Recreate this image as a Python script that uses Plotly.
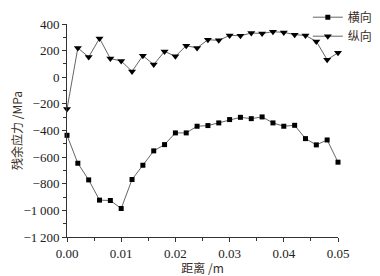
import plotly.graph_objects as go

distance = [0.000, 0.002, 0.004, 0.006, 0.008, 0.010, 0.012, 0.014, 0.016, 0.018,
            0.020, 0.022, 0.024, 0.026, 0.028, 0.030, 0.032, 0.034, 0.036, 0.038,
            0.040, 0.042, 0.044, 0.046, 0.048, 0.050]
transverse = [-436, -646, -771, -923, -926, -986, -768, -661, -553, -506,
              -418, -418, -368, -363, -343, -318, -301, -311, -298, -343,
              -368, -361, -461, -508, -471, -638]
longitudinal = [-238, 220, 152, 292, 140, 122, 44, 162, 95, 194,
                157, 237, 220, 282, 277, 314, 312, 332, 329, 342,
                337, 320, 314, 269, 132, 184]

y_tickvals = [400, 200, 0, -200, -400, -600, -800, -1000, -1200]
y_ticktext = ["400", "200", "0", "\u2212200", "\u2212400", "\u2212600", "\u2212800",
              "\u22121\u2009000", "\u22121\u2009200"]
x_tickvals = [0.00, 0.01, 0.02, 0.03, 0.04, 0.05]
x_ticktext = ["0.00", "0.01", "0.02", "0.03", "0.04", "0.05"]

serif = "Liberation Serif"
cjk = "Noto Sans CJK SC"
text_col = "#3a2e28"

fig = go.Figure()
fig.add_trace(go.Scatter(
    x=distance, y=transverse, name="横向", mode="lines+markers",
    line=dict(color="#555555", width=0.9),
    marker=dict(symbol="square", size=5, color="#000000"),
    cliponaxis=False))
fig.add_trace(go.Scatter(
    x=distance, y=longitudinal, name="纵向", mode="lines+markers",
    line=dict(color="#555555", width=0.9),
    marker=dict(symbol="triangle-down", size=7, color="#000000"),
    cliponaxis=False))

axis_common = dict(showgrid=False, zeroline=False, showline=True, linecolor="#333333",
                   linewidth=1, ticks="outside", ticklen=4, tickcolor="#333333",
                   automargin=False,
                   tickfont=dict(family=serif, size=13, color="#222222"))

fig.update_xaxes(range=[0, 0.05], tickvals=x_tickvals, ticktext=x_ticktext,
                 minor=dict(ticks="outside", ticklen=3, dtick=0.005, tick0=0, tickcolor="#333333"),
                 title=dict(text="距离 /m", font=dict(family=cjk, size=12, color=text_col), standoff=7),
                 **axis_common)
fig.update_yaxes(range=[-1200, 400], tickvals=y_tickvals, ticktext=y_ticktext,
                 minor=dict(ticks="outside", ticklen=3, dtick=100, tick0=0, tickcolor="#333333"),
                 title=dict(text="残余应力 /MPa", font=dict(family=cjk, size=12, color=text_col), standoff=14),
                 **axis_common)

# the page adds an 8px body margin at left/top, so the figure is sized 8px smaller
fig.update_layout(
    width=372, height=268,
    margin=dict(l=59, r=42, t=16, b=39, autoexpand=False),
    paper_bgcolor="white", plot_bgcolor="white",
    showlegend=True,
    legend=dict(xref="container", yref="paper", x=0.806, y=1.10, xanchor="left", yanchor="top",
                font=dict(family=cjk, size=12, color=text_col),
                itemwidth=30, tracegroupgap=0, bgcolor="rgba(0,0,0,0)"),
)

fig.write_html("out.html")
